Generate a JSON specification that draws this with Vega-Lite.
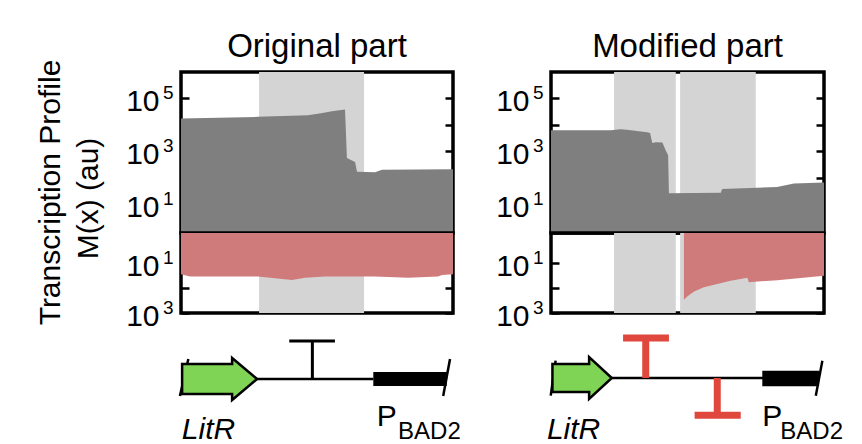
{
  "$schema": "https://vega.github.io/schema/vega-lite/v6.json",
  "padding": {"left": 33, "top": 29, "right": 0, "bottom": 0},
  "background": "white",
  "config": {
    "font": "Liberation Sans",
    "view": {"stroke": "black", "strokeWidth": 3.5},
    "axis": {"grid": false, "domain": false, "offset": 0, "tickColor": "black", "tickWidth": 2.5, "tickSize": -8, "labelFontSize": 30, "labelColor": "black", "labelPadding": 30, "labelOverlap": false, "labelFlush": false, "titleFontWeight": "normal", "titleFontSize": 30, "titleColor": "black"},
    "title": {"fontSize": 33, "fontWeight": "normal", "color": "black", "anchor": "middle", "offset": 8}
  },
  "datasets": {
    "oBands": [{"start": 28.7, "end": 67.3}],
    "mBands": [{"start": 23.1, "end": 45.7}, {"start": 47.3, "end": 75.0}],
    "oTop": [
      {"x": 0, "m": 17600}, {"x": 28.3, "m": 20200}, {"x": 46.7, "m": 23400}, {"x": 52, "m": 28000},
      {"x": 55.5, "m": 33000}, {"x": 60.3, "m": 38400}, {"x": 61, "m": 560}, {"x": 64, "m": 400},
      {"x": 64.7, "m": 170}, {"x": 71.3, "m": 163}, {"x": 73.9, "m": 204}, {"x": 100, "m": 214}
    ],
    "oBot": [
      {"x": 0, "m": 27.5}, {"x": 3.3, "m": 34}, {"x": 28.3, "m": 34}, {"x": 34.6, "m": 40},
      {"x": 40.8, "m": 47}, {"x": 45.6, "m": 38}, {"x": 52.9, "m": 34}, {"x": 71.3, "m": 34},
      {"x": 83.5, "m": 38}, {"x": 94.5, "m": 34}, {"x": 96, "m": 29.5}, {"x": 100, "m": 27.5}
    ],
    "mTop": [
      {"x": 0, "m": 6300}, {"x": 21.9, "m": 6300}, {"x": 25.5, "m": 6900}, {"x": 27.8, "m": 6600},
      {"x": 35.2, "m": 5250}, {"x": 36.3, "m": 5000}, {"x": 37.1, "m": 2090}, {"x": 38.4, "m": 2240},
      {"x": 40.8, "m": 2190}, {"x": 42, "m": 1120}, {"x": 42.9, "m": 724}, {"x": 43.2, "m": 26.3},
      {"x": 62.2, "m": 27.5}, {"x": 62.7, "m": 38}, {"x": 82.8, "m": 45.7}, {"x": 89, "m": 61.7},
      {"x": 100, "m": 67.6}
    ],
    "mBot": [
      {"x": 48.7, "m": 295}, {"x": 49.9, "m": 215}, {"x": 52.4, "m": 136}, {"x": 56, "m": 93},
      {"x": 60.9, "m": 69}, {"x": 65.8, "m": 51}, {"x": 71.9, "m": 38}, {"x": 72.5, "m": 57.5},
      {"x": 82.9, "m": 48}, {"x": 100, "m": 31.5}
    ],
    "oDiag": [
      {"part": "line", "x": 28, "x2": 70.7, "y": 66, "y2": 66},
      {"part": "term", "x": 48.3, "x2": 48.3, "y": 66, "y2": 28},
      {"part": "term", "x": 39.8, "x2": 56.6, "y": 28, "y2": 28},
      {"part": "end", "x": 2.7, "x2": -0.4, "y": 46, "y2": 83},
      {"part": "end", "x": 98.9, "x2": 96.4, "y": 46, "y2": 83},
      {"part": "block", "x": 70.7, "x2": 97.7, "y": 59, "y2": 73},
      {"part": "arrow", "x": 14.2, "y": 66},
      {"part": "gene", "x": 0.3, "y": 126, "label": "LitR"},
      {"part": "prom", "x": 72, "y": 113, "label": "P"},
      {"part": "sub", "x": 79.8, "y": 126, "label": "BAD2"}
    ],
    "mDiag": [
      {"part": "line", "x": 22.2, "x2": 78, "y": 65, "y2": 65},
      {"part": "term", "x": 34.7, "x2": 34.7, "y": 65, "y2": 25},
      {"part": "term", "x": 26.4, "x2": 43.2, "y": 25, "y2": 25},
      {"part": "term", "x": 60.9, "x2": 60.9, "y": 65, "y2": 102.3},
      {"part": "term", "x": 52.6, "x2": 69.5, "y": 102.3, "y2": 102.3},
      {"part": "end", "x": 1.7, "x2": -0.1, "y": 47.7, "y2": 82.7},
      {"part": "end", "x": 99.4, "x2": 97, "y": 47.7, "y2": 82.7},
      {"part": "block", "x": 77.4, "x2": 98.2, "y": 57.7, "y2": 73.3},
      {"part": "arrow", "x": 11.4, "y": 65},
      {"part": "gene", "x": -1.5, "y": 126, "label": "LitR"},
      {"part": "prom", "x": 77.4, "y": 113, "label": "P"},
      {"part": "sub", "x": 84, "y": 126, "label": "BAD2"}
    ]
  },
  "hconcat": [
    {
      "spacing": 0,
      "bounds": "flush",
      "vconcat": [
        {
          "width": 272, "height": 161,
          "title": "Original part",
          "layer": [
            {
              "data": {"name": "oBands"},
              "mark": {"type": "rect", "color": "#d4d4d4"},
              "encoding": {
                "x": {"field": "start", "type": "quantitative", "scale": {"domain": [0, 100], "nice": false, "zero": false}, "axis": null},
                "x2": {"field": "end"},
                "y": {"datum": 0.83, "type": "quantitative", "scale": {"type": "log", "domain": [0.83, 1000000], "nice": false}, "axis": {"orient": "right", "values": [10, 100, 1000, 10000, 100000], "labels": false, "title": null}},
                "y2": {"datum": 1000000}
              }
            },
            {
              "data": {"name": "oTop"},
              "mark": {"type": "area", "color": "#7f7f7f", "clip": true},
              "encoding": {
                "x": {"field": "x", "type": "quantitative", "scale": {"domain": [0, 100], "nice": false, "zero": false}, "axis": null},
                "y": {"field": "m", "type": "quantitative", "scale": {"type": "log", "domain": [0.83, 1000000], "nice": false},
                  "axis": {"orient": "left", "values": [10, 100, 1000, 10000, 100000], "labelOffset": 3,
                    "labelExpr": "datum.value == 100000 || datum.value == 1000 || datum.value == 10 ? '10' : ''",
                    "title": null}},
                "y2": {"datum": 0.83}
              }
            },
            {
              "data": {"name": "oTop"},
              "mark": {"type": "point", "opacity": 0},
              "encoding": {
                "x": {"field": "x", "type": "quantitative", "scale": {"domain": [0, 100], "nice": false, "zero": false}, "axis": null},
                "y": {"field": "m", "type": "quantitative", "scale": {"type": "log", "domain": [0.83, 1000000], "nice": false},
                  "axis": {"orient": "left", "values": [10, 1000, 100000], "ticks": false, "tickSize": 0, "labelPadding": 8, "labelFontSize": 19, "labelOffset": -6,
                    "labelExpr": "datum.value == 100000 ? '5' : datum.value == 1000 ? '3' : '1'",
                    "title": null}}
              }
            }
          ],
          "resolve": {"axis": {"y": "independent"}}
        },
        {
          "width": 272, "height": 80,
          "layer": [
            {
              "data": {"name": "oBands"},
              "mark": {"type": "rect", "color": "#d4d4d4"},
              "encoding": {
                "x": {"field": "start", "type": "quantitative", "scale": {"domain": [0, 100], "nice": false, "zero": false}, "axis": null},
                "x2": {"field": "end"},
                "y": {"datum": 0.61, "type": "quantitative", "scale": {"type": "log", "domain": [0.61, 1000], "nice": false, "reverse": true}, "axis": {"orient": "right", "values": [10, 100, 1000], "labels": false, "title": null}},
                "y2": {"datum": 1000}
              }
            },
            {
              "data": {"name": "oBot"},
              "mark": {"type": "area", "color": "#cf7b7b", "clip": true},
              "encoding": {
                "x": {"field": "x", "type": "quantitative", "scale": {"domain": [0, 100], "nice": false, "zero": false}, "axis": null},
                "y": {"field": "m", "type": "quantitative", "scale": {"type": "log", "domain": [0.61, 1000], "nice": false, "reverse": true},
                  "axis": {"orient": "left", "values": [10, 100, 1000], "labelOffset": 3,
                    "labelExpr": "datum.value == 1000 || datum.value == 10 ? '10' : ''",
                    "title": "M(x) (au)", "titleX": -93, "titleY": -35, "titleAngle": 270, "titleAlign": "center", "titleBaseline": "middle"}},
                "y2": {"datum": 0.61}
              }
            },
            {
              "data": {"name": "oBot"},
              "mark": {"type": "point", "opacity": 0},
              "encoding": {
                "x": {"field": "x", "type": "quantitative", "scale": {"domain": [0, 100], "nice": false, "zero": false}, "axis": null},
                "y": {"field": "m", "type": "quantitative", "scale": {"type": "log", "domain": [0.61, 1000], "nice": false, "reverse": true},
                  "axis": {"orient": "left", "values": [10, 1000], "ticks": false, "tickSize": 0, "labelPadding": 8, "labelFontSize": 19, "labelOffset": -6,
                    "labelExpr": "datum.value == 1000 ? '3' : '1'",
                    "title": "Transcription Profile", "titleX": -131, "titleY": -41, "titleAngle": 270, "titleAlign": "center", "titleBaseline": "middle"}}
              }
            }
          ],
          "resolve": {"axis": {"y": "independent"}}
        },
        {
          "width": 272, "height": 130,
          "view": {"stroke": null},
          "data": {"name": "oDiag"},
          "encoding": {
            "x": {"field": "x", "type": "quantitative", "scale": {"domain": [0, 100], "nice": false, "zero": false}, "axis": null},
            "y": {"field": "y", "type": "quantitative", "scale": {"domain": [0, 130], "nice": false, "zero": false, "reverse": true}, "axis": null}
          },
          "layer": [
            {"transform": [{"filter": "datum.part == 'line'"}], "mark": {"type": "rule", "strokeWidth": 2.5, "color": "black"}, "encoding": {"x2": {"field": "x2"}, "y2": {"field": "y2"}}},
            {"transform": [{"filter": "datum.part == 'term'"}], "mark": {"type": "rule", "strokeWidth": 3, "color": "black"}, "encoding": {"x2": {"field": "x2"}, "y2": {"field": "y2"}}},
            {"transform": [{"filter": "datum.part == 'end'"}], "mark": {"type": "rule", "strokeWidth": 2.5, "color": "black"}, "encoding": {"x2": {"field": "x2"}, "y2": {"field": "y2"}}},
            {"transform": [{"filter": "datum.part == 'block'"}], "mark": {"type": "rect", "color": "black"}, "encoding": {"x2": {"field": "x2"}, "y2": {"field": "y2"}}},
            {"transform": [{"filter": "datum.part == 'arrow'"}], "mark": {"type": "point", "filled": true, "fill": "#80d455", "stroke": "black", "strokeWidth": 2.5, "opacity": 1, "size": 1764, "shape": "M-1.786,-0.714L0.595,-0.714L0.595,-1L1.786,0L0.595,1L0.595,0.714L-1.786,0.714Z"}},
            {"transform": [{"filter": "datum.part == 'gene'"}], "mark": {"type": "text", "fontSize": 30, "fontStyle": "italic", "align": "left", "baseline": "alphabetic", "color": "black"}, "encoding": {"text": {"field": "label"}}},
            {"transform": [{"filter": "datum.part == 'prom'"}], "mark": {"type": "text", "fontSize": 30, "align": "left", "baseline": "alphabetic", "color": "black"}, "encoding": {"text": {"field": "label"}}},
            {"transform": [{"filter": "datum.part == 'sub'"}], "mark": {"type": "text", "fontSize": 24, "align": "left", "baseline": "alphabetic", "color": "black"}, "encoding": {"text": {"field": "label"}}}
          ]
        }
      ]
    },
    {
      "spacing": 0,
      "bounds": "flush",
      "vconcat": [
        {
          "width": 273, "height": 161,
          "title": "Modified part",
          "layer": [
            {
              "data": {"name": "mBands"},
              "mark": {"type": "rect", "color": "#d4d4d4"},
              "encoding": {
                "x": {"field": "start", "type": "quantitative", "scale": {"domain": [0, 100], "nice": false, "zero": false}, "axis": null},
                "x2": {"field": "end"},
                "y": {"datum": 0.83, "type": "quantitative", "scale": {"type": "log", "domain": [0.83, 1000000], "nice": false}, "axis": {"orient": "right", "values": [10, 100, 1000, 10000, 100000], "labels": false, "title": null}},
                "y2": {"datum": 1000000}
              }
            },
            {
              "data": {"name": "mTop"},
              "mark": {"type": "area", "color": "#7f7f7f", "clip": true},
              "encoding": {
                "x": {"field": "x", "type": "quantitative", "scale": {"domain": [0, 100], "nice": false, "zero": false}, "axis": null},
                "y": {"field": "m", "type": "quantitative", "scale": {"type": "log", "domain": [0.83, 1000000], "nice": false},
                  "axis": {"orient": "left", "values": [10, 100, 1000, 10000, 100000], "labelOffset": 3,
                    "labelExpr": "datum.value == 100000 || datum.value == 1000 || datum.value == 10 ? '10' : ''",
                    "title": null}},
                "y2": {"datum": 0.83}
              }
            },
            {
              "data": {"name": "mTop"},
              "mark": {"type": "point", "opacity": 0},
              "encoding": {
                "x": {"field": "x", "type": "quantitative", "scale": {"domain": [0, 100], "nice": false, "zero": false}, "axis": null},
                "y": {"field": "m", "type": "quantitative", "scale": {"type": "log", "domain": [0.83, 1000000], "nice": false},
                  "axis": {"orient": "left", "values": [10, 1000, 100000], "ticks": false, "tickSize": 0, "labelPadding": 8, "labelFontSize": 19, "labelOffset": -6,
                    "labelExpr": "datum.value == 100000 ? '5' : datum.value == 1000 ? '3' : '1'",
                    "title": null}}
              }
            }
          ],
          "resolve": {"axis": {"y": "independent"}}
        },
        {
          "width": 273, "height": 80,
          "layer": [
            {
              "data": {"name": "mBands"},
              "mark": {"type": "rect", "color": "#d4d4d4"},
              "encoding": {
                "x": {"field": "start", "type": "quantitative", "scale": {"domain": [0, 100], "nice": false, "zero": false}, "axis": null},
                "x2": {"field": "end"},
                "y": {"datum": 0.61, "type": "quantitative", "scale": {"type": "log", "domain": [0.61, 1000], "nice": false, "reverse": true}, "axis": {"orient": "right", "values": [10, 100, 1000], "labels": false, "title": null}},
                "y2": {"datum": 1000}
              }
            },
            {
              "data": {"name": "mBot"},
              "mark": {"type": "area", "color": "#cf7b7b", "clip": true},
              "encoding": {
                "x": {"field": "x", "type": "quantitative", "scale": {"domain": [0, 100], "nice": false, "zero": false}, "axis": null},
                "y": {"field": "m", "type": "quantitative", "scale": {"type": "log", "domain": [0.61, 1000], "nice": false, "reverse": true},
                  "axis": {"orient": "left", "values": [10, 100, 1000], "labelOffset": 3,
                    "labelExpr": "datum.value == 1000 || datum.value == 10 ? '10' : ''",
                    "title": null}},
                "y2": {"datum": 0.61}
              }
            },
            {
              "data": {"name": "mBot"},
              "mark": {"type": "point", "opacity": 0},
              "encoding": {
                "x": {"field": "x", "type": "quantitative", "scale": {"domain": [0, 100], "nice": false, "zero": false}, "axis": null},
                "y": {"field": "m", "type": "quantitative", "scale": {"type": "log", "domain": [0.61, 1000], "nice": false, "reverse": true},
                  "axis": {"orient": "left", "values": [10, 1000], "ticks": false, "tickSize": 0, "labelPadding": 8, "labelFontSize": 19, "labelOffset": -6,
                    "labelExpr": "datum.value == 1000 ? '3' : '1'",
                    "title": null}}
              }
            }
          ],
          "resolve": {"axis": {"y": "independent"}}
        },
        {
          "width": 273, "height": 130,
          "view": {"stroke": null},
          "data": {"name": "mDiag"},
          "encoding": {
            "x": {"field": "x", "type": "quantitative", "scale": {"domain": [0, 100], "nice": false, "zero": false}, "axis": null},
            "y": {"field": "y", "type": "quantitative", "scale": {"domain": [0, 130], "nice": false, "zero": false, "reverse": true}, "axis": null}
          },
          "layer": [
            {"transform": [{"filter": "datum.part == 'line'"}], "mark": {"type": "rule", "strokeWidth": 2.5, "color": "black"}, "encoding": {"x2": {"field": "x2"}, "y2": {"field": "y2"}}},
            {"transform": [{"filter": "datum.part == 'term'"}], "mark": {"type": "rule", "strokeWidth": 7, "color": "#e0483e"}, "encoding": {"x2": {"field": "x2"}, "y2": {"field": "y2"}}},
            {"transform": [{"filter": "datum.part == 'end'"}], "mark": {"type": "rule", "strokeWidth": 2.5, "color": "black"}, "encoding": {"x2": {"field": "x2"}, "y2": {"field": "y2"}}},
            {"transform": [{"filter": "datum.part == 'block'"}], "mark": {"type": "rect", "color": "black"}, "encoding": {"x2": {"field": "x2"}, "y2": {"field": "y2"}}},
            {"transform": [{"filter": "datum.part == 'arrow'"}], "mark": {"type": "point", "filled": true, "fill": "#80d455", "stroke": "black", "strokeWidth": 2.5, "opacity": 1, "size": 1764, "shape": "M-1.414,-0.667L0.333,-0.667L0.333,-1L1.414,0L0.333,1L0.333,0.667L-1.414,0.667Z"}},
            {"transform": [{"filter": "datum.part == 'gene'"}], "mark": {"type": "text", "fontSize": 30, "fontStyle": "italic", "align": "left", "baseline": "alphabetic", "color": "black"}, "encoding": {"text": {"field": "label"}}},
            {"transform": [{"filter": "datum.part == 'prom'"}], "mark": {"type": "text", "fontSize": 30, "align": "left", "baseline": "alphabetic", "color": "black"}, "encoding": {"text": {"field": "label"}}},
            {"transform": [{"filter": "datum.part == 'sub'"}], "mark": {"type": "text", "fontSize": 24, "align": "left", "baseline": "alphabetic", "color": "black"}, "encoding": {"text": {"field": "label"}}}
          ]
        }
      ]
    }
  ],
  "spacing": 32,
  "align": "each"
}
